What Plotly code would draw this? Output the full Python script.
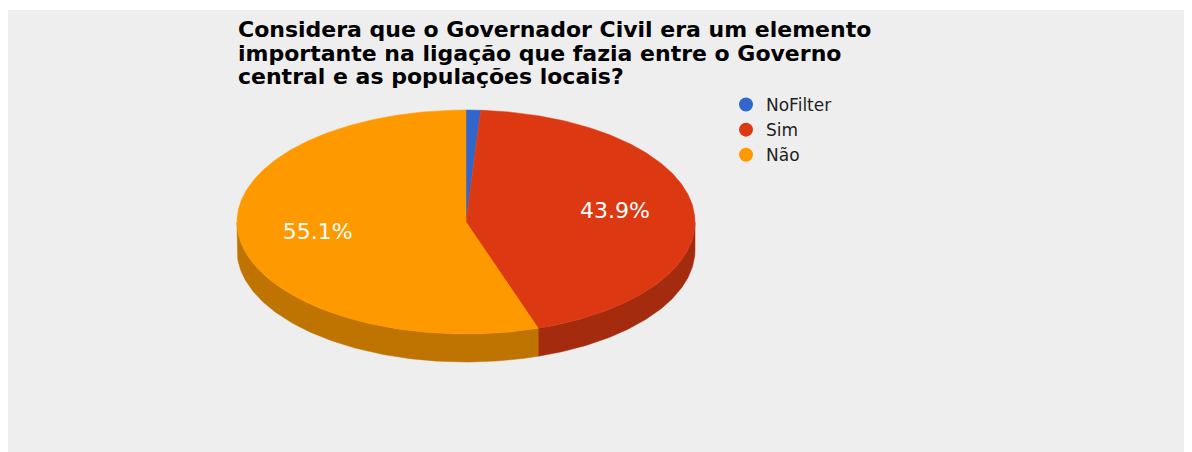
import numpy as np
import plotly.graph_objects as go

# ---- data ----
categories = ["NoFilter", "Sim", "Não"]
counts = [1, 43, 54]
top_colors = ["#3366cc", "#dc3912", "#ff9900"]
side_colors = ["#264d99", "#a52b0e", "#bf7300"]
title_lines = [
    "Considera que o Governador Civil era um elemento",
    "importante na ligação que fazia entre o Governo",
    "central e as populações locais?",
]

# ---- geometry (axes set up so data units equal screen pixels) ----
OFF = 8                      # browser body margin
W, H = 1180, 444             # figure size
CX, CY, RX, RY, DEPTH = 466, 222, 229, 112, 28
FONT = "DejaVu Sans"

total = float(sum(counts))
fracs = [c / total for c in counts]
starts = np.concatenate([[0.0], np.cumsum(fracs)[:-1]])
ends = np.cumsum(fracs)


def ell(theta_deg, dy=0.0, scale=1.0):
    t = np.radians(theta_deg)
    return CX + RX * scale * np.sin(t), CY - RY * scale * np.cos(t) + dy


fig = go.Figure()

# side walls (front half only: 90..270 degrees, clockwise from 12 o'clock)
for i, cat in enumerate(categories):
    a0, a1 = starts[i] * 360, ends[i] * 360
    lo, hi = max(a0, 90), min(a1, 270)
    if lo >= hi:
        continue
    th = np.linspace(lo, hi, 120)
    xt, yt = ell(th)
    xb, yb = ell(th[::-1], DEPTH)
    xs = np.concatenate([xt, xb, xt[:1]])
    ys = np.concatenate([yt, yb, yt[:1]])
    fig.add_trace(go.Scatter(x=xs, y=ys, mode="lines", fill="toself",
                             fillcolor=side_colors[i],
                             line=dict(color=side_colors[i], width=0.5),
                             hoverinfo="skip", showlegend=False))

# top faces
for i, cat in enumerate(categories):
    a0, a1 = starts[i] * 360, ends[i] * 360
    th = np.linspace(a0, a1, max(4, int((a1 - a0) * 2)))
    xa, ya = ell(th)
    xs = np.concatenate([[CX], xa, [CX]])
    ys = np.concatenate([[CY], ya, [CY]])
    fig.add_trace(go.Scatter(x=xs, y=ys, mode="lines", fill="toself",
                             fillcolor=top_colors[i],
                             line=dict(color=top_colors[i], width=0.5),
                             hoverinfo="skip", showlegend=False))

# slice labels
lx, ly, lt = [], [], []
for i, f in enumerate(fracs):
    if f < 0.05:
        continue
    mid = (starts[i] + f / 2) * 360
    x, y = ell(mid, scale=0.656)
    lx.append(x)
    ly.append(y)
    lt.append(f"{f * 100:.1f}%")
fig.add_trace(go.Scatter(x=lx, y=ly, mode="text", text=lt,
                         textfont=dict(family=FONT, size=22, color="#ffffff"),
                         hoverinfo="skip", showlegend=False))

# legend entries
for i, cat in enumerate(categories):
    fig.add_trace(go.Scatter(x=[None], y=[None], mode="markers", name=cat,
                             marker=dict(color=top_colors[i], size=14, symbol="circle")))

# title lines
for k, line in enumerate(title_lines):
    fig.add_annotation(x=236, y=29.5 + 23.5 * k, xref="x", yref="y",
                       text=f"<b>{line}</b>", showarrow=False,
                       xanchor="left", yanchor="middle",
                       font=dict(family=FONT, size=22, color="#000000"))

L, T, R, B = 0, 2, 0, 0
x0, x1 = L + OFF, W - R + OFF
y0, y1 = T + OFF, H - B + OFF
fig.update_layout(
    width=W, height=H,
    margin=dict(l=L, r=R, t=T, b=B, pad=0),
    paper_bgcolor="#ffffff",
    plot_bgcolor="#eeeeee",
    xaxis=dict(range=[x0, x1], visible=False, fixedrange=True),
    yaxis=dict(range=[y1, y0], visible=False, fixedrange=True),
    showlegend=True,
    legend=dict(x=(726 - x0) / (x1 - x0), y=1 - (87 - y0) / (y1 - y0),
                xanchor="left", yanchor="top",
                bgcolor="rgba(0,0,0,0)",
                font=dict(family=FONT, size=17, color="#222222"),
                tracegroupgap=0, itemwidth=30),
    hovermode=False,
)

fig.write_html("out.html")
